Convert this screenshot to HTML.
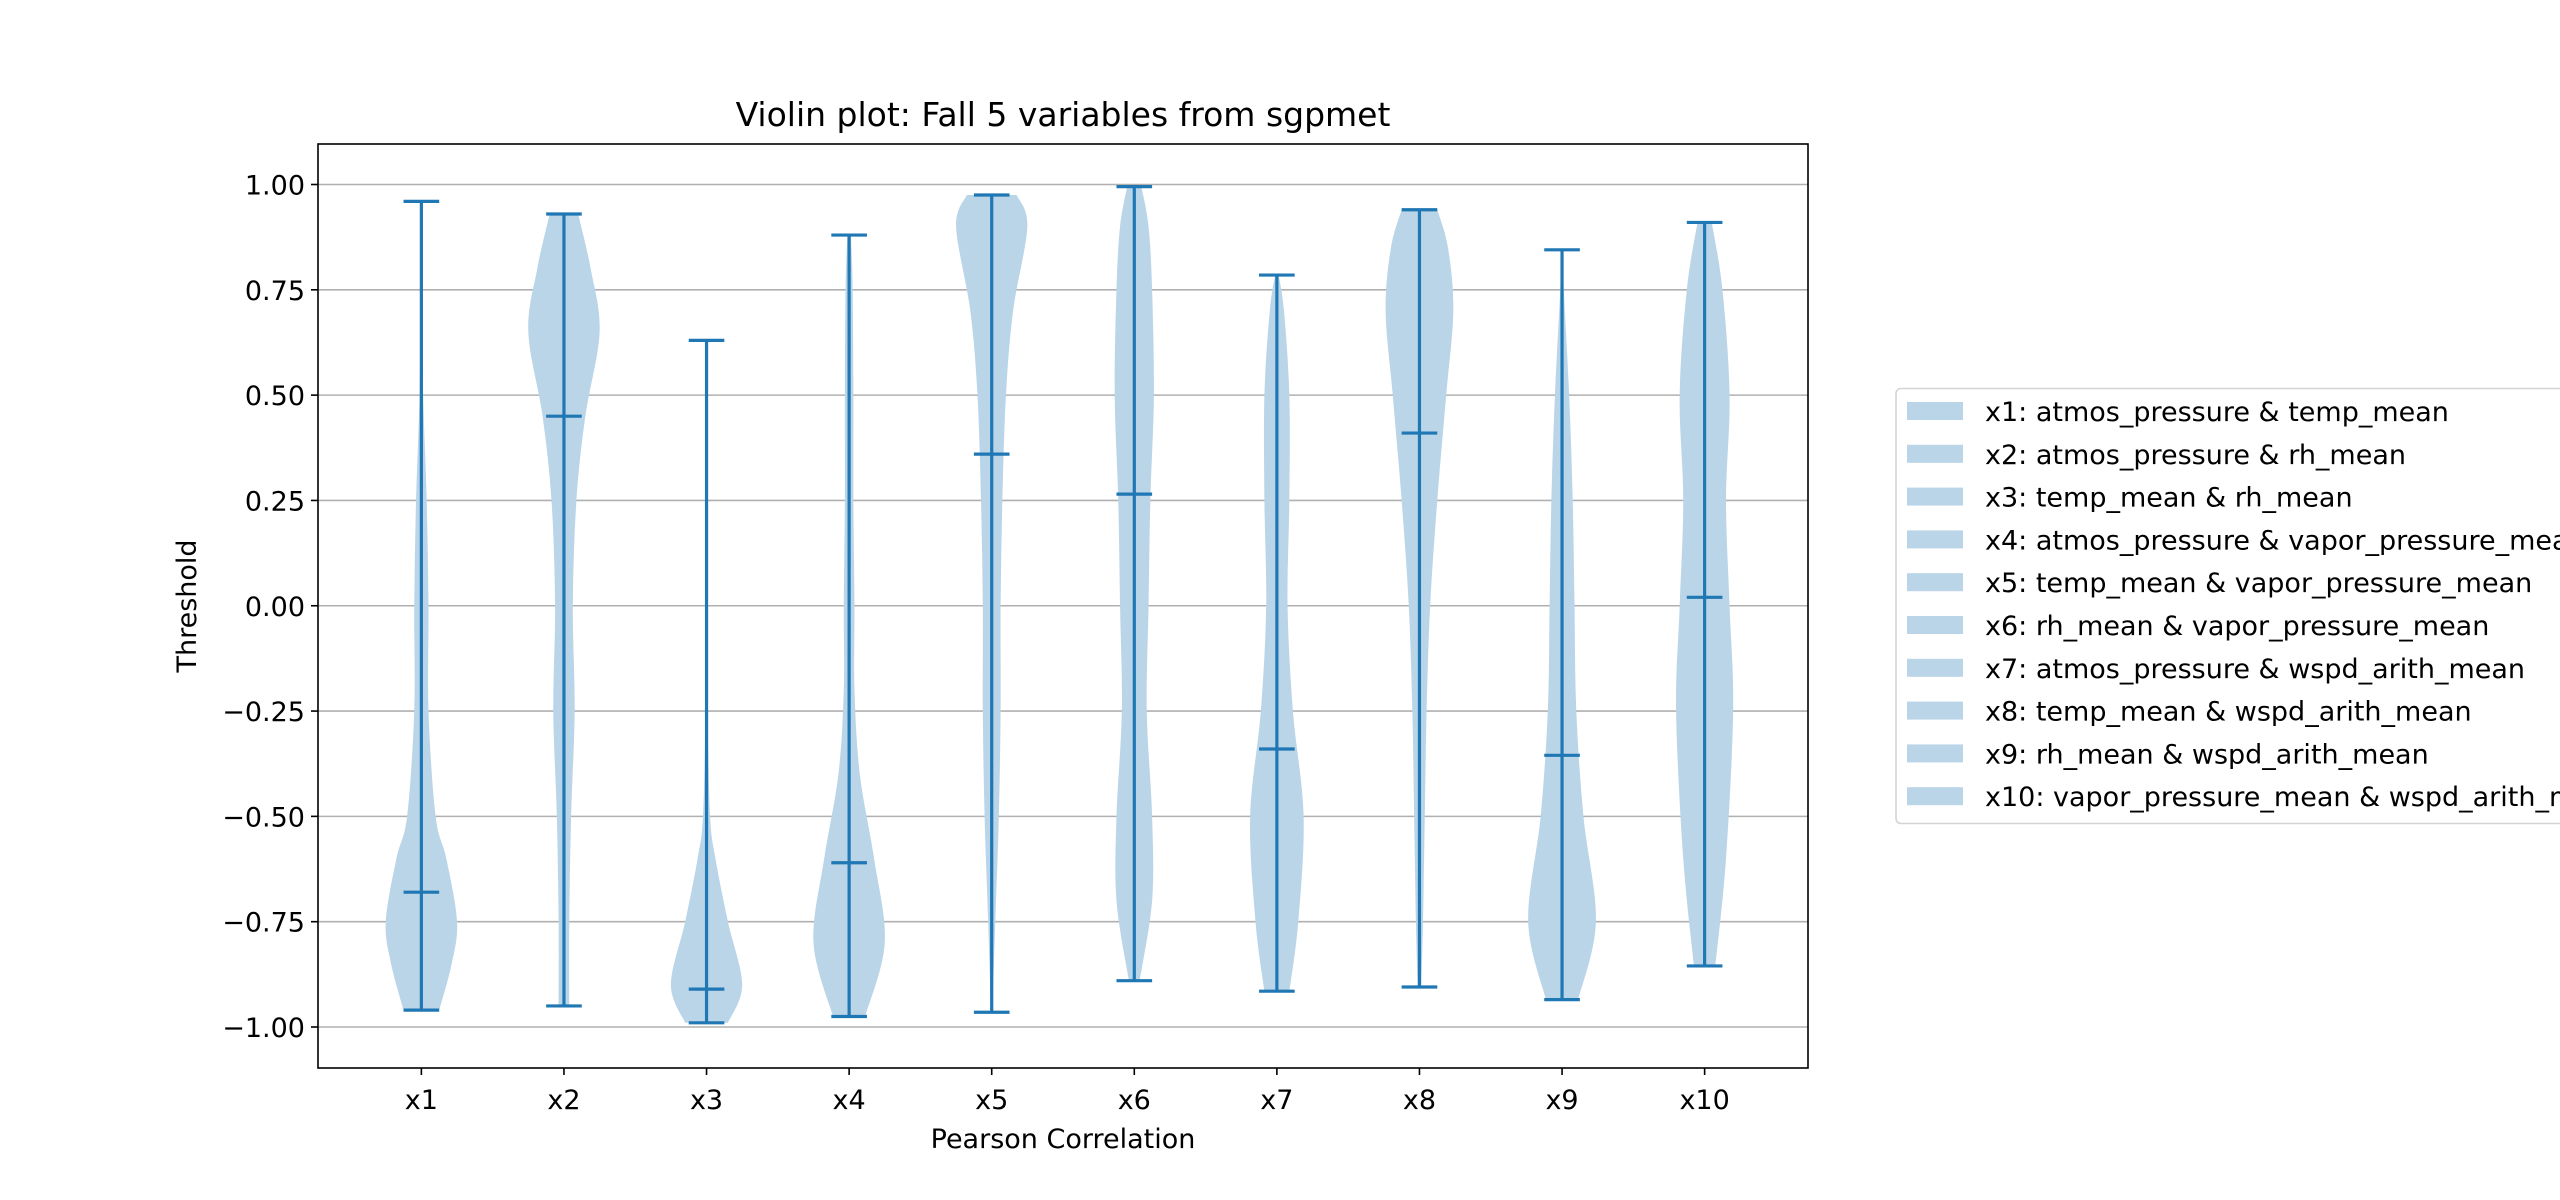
<!DOCTYPE html>
<html><head><meta charset="utf-8"><style>
html,body{margin:0;padding:0;background:#fff;}
svg{display:block;font-family:"DejaVu Sans","Liberation Sans",sans-serif;}
</style></head><body>
<svg id="chart" width="2560" height="1200" viewBox="0 0 2560 1200">
<text x="1063" y="126" font-size="33" text-anchor="middle">Violin plot: Fall 5 variables from sgpmet</text>
<g id="grid"></g>
<g id="violins"></g>
<rect x="318" y="144" width="1490" height="924" fill="none" stroke="#000" stroke-width="1.6"/>
<g id="yticks"></g>
<g id="xticks"></g>
<text transform="translate(196,606) rotate(-90)" font-size="27" text-anchor="middle">Threshold</text>
<text x="1063" y="1148" font-size="27" text-anchor="middle">Pearson Correlation</text>
<g id="legend"></g>
</svg>
<script>
const categories = ["x1","x2","x3","x4","x5","x6","x7","x8","x9","x10"];
const legendLabels = ["x1: atmos_pressure & temp_mean","x2: atmos_pressure & rh_mean","x3: temp_mean & rh_mean","x4: atmos_pressure & vapor_pressure_mean","x5: temp_mean & vapor_pressure_mean","x6: rh_mean & vapor_pressure_mean","x7: atmos_pressure & wspd_arith_mean","x8: temp_mean & wspd_arith_mean","x9: rh_mean & wspd_arith_mean","x10: vapor_pressure_mean & wspd_arith_mean"];
const maxVals = [0.96,0.93,0.63,0.88,0.975,0.995,0.785,0.94,0.845,0.91];
const minVals = [-0.96,-0.95,-0.99,-0.975,-0.965,-0.89,-0.915,-0.905,-0.935,-0.855];
const medianVals = [-0.68,0.45,-0.91,-0.61,0.36,0.265,-0.34,0.41,-0.355,0.02];
const densityY = [
 [-0.96,-0.85,-0.75,-0.6,-0.5,-0.25,0,0.25,0.5,0.75,0.96],
 [-0.95,-0.75,-0.5,-0.25,0,0.25,0.45,0.65,0.8,0.93],
 [-0.99,-0.9,-0.75,-0.6,-0.5,-0.25,0,0.63],
 [-0.975,-0.8,-0.6,-0.4,-0.2,0,0.25,0.5,0.75,0.88],
 [-0.965,-0.75,-0.5,-0.25,0,0.25,0.5,0.7,0.9,0.975],
 [-0.89,-0.7,-0.5,-0.25,0,0.25,0.5,0.75,0.9,0.995],
 [-0.915,-0.75,-0.5,-0.25,0,0.25,0.5,0.7,0.785],
 [-0.905,-0.75,-0.5,-0.25,0,0.25,0.5,0.7,0.85,0.94],
 [-0.935,-0.75,-0.5,-0.25,0,0.25,0.5,0.75,0.845],
 [-0.855,-0.6,-0.25,0,0.25,0.5,0.75,0.91]
];
const densityW = [
 [0.5,0.85,1.0,0.7,0.4,0.2,0.2,0.15,0.05,0.02,0.0],
 [0.15,0.15,0.2,0.3,0.25,0.35,0.6,1.0,0.75,0.4],
 [0.6,1.0,0.6,0.25,0.1,0.03,0.01,0.0],
 [0.45,1.0,0.7,0.3,0.15,0.15,0.12,0.12,0.1,0.05],
 [0.02,0.1,0.2,0.25,0.25,0.3,0.4,0.6,1.0,0.7],
 [0.15,0.5,0.5,0.35,0.4,0.45,0.55,0.5,0.4,0.2],
 [0.35,0.6,0.75,0.45,0.3,0.35,0.35,0.2,0.05],
 [0.05,0.1,0.15,0.2,0.3,0.5,0.75,0.95,0.8,0.5],
 [0.45,0.95,0.6,0.4,0.35,0.3,0.2,0.05,0.01],
 [0.3,0.6,0.8,0.7,0.6,0.7,0.5,0.2]
];
const yTicks = [-1.0,-0.75,-0.5,-0.25,0,0.25,0.5,0.75,1.0];
const yTickLabels = ["\u22121.00","\u22120.75","\u22120.50","\u22120.25","0.00","0.25","0.50","0.75","1.00"];

const NS="http://www.w3.org/2000/svg";
const X0=318,X1=1808,XMIN=0.275,XMAX=10.725;
const Y0=184.5,Y1=1027;
const xs=v=>X0+(v-XMIN)/(XMAX-XMIN)*(X1-X0);
const ys=v=>Y0+(1-v)/2*(Y1-Y0);
const blue="#1f77b4", fill="#bbd5e8";
function mk(tag,attrs,parent){const e=document.createElementNS(NS,tag);for(const k in attrs)e.setAttribute(k,attrs[k]);parent.appendChild(e);return e;}

const grid=document.getElementById('grid'), yt=document.getElementById('yticks'), xt=document.getElementById('xticks');
yTicks.forEach((t,i)=>{
  const l=mk('line',{x1:X0,x2:X1,y1:ys(t),y2:ys(t),stroke:'#b0b0b0','stroke-width':1.6},grid);
  
  
  const tk=mk('line',{x1:X0-7,x2:X0,y1:ys(t),y2:ys(t),stroke:'#000','stroke-width':1.6},yt);
  
  
  const tx=mk('text',{x:X0-13,y:ys(t)+10,'font-size':27,'text-anchor':'end'},yt);
  tx.textContent=yTickLabels[i];
  
  
});
categories.forEach((c,i)=>{
  const x=xs(i+1);
  const tk=mk('line',{x1:x,x2:x,y1:1068,y2:1075,stroke:'#000','stroke-width':1.6},xt);
  
  
  const tx=mk('text',{x:x,y:1109,'font-size':27,'text-anchor':'middle'},xt);
  tx.textContent=c;
  
  
});

function smoothPath(pts){
  let d='M'+pts[0][0]+','+pts[0][1];
  for(let i=0;i<pts.length-1;i++){
    const p0=pts[Math.max(0,i-1)],p1=pts[i],p2=pts[i+1],p3=pts[Math.min(pts.length-1,i+2)];
    const c1=[p1[0]+(p2[0]-p0[0])/6,p1[1]+(p2[1]-p0[1])/6];
    const c2=[p2[0]-(p3[0]-p1[0])/6,p2[1]-(p3[1]-p1[1])/6];
    d+=' C'+c1[0]+','+c1[1]+' '+c2[0]+','+c2[1]+' '+p2[0]+','+p2[1];
  }
  return d;
}
const vg=document.getElementById('violins');
categories.forEach((c,i)=>{
  const pos=i+1;
  const right=densityY[i].map((y,j)=>[xs(pos+densityW[i][j]*0.25),ys(y)]);
  const left=densityY[i].map((y,j)=>[xs(pos-densityW[i][j]*0.25),ys(y)]).reverse();
  const d=smoothPath(right)+' L'+left[0][0]+','+left[0][1]+smoothPath(left).replace(/^M[^ ]+/,'')+' Z';
  const p=mk('path',{d:d,fill:fill,stroke:'none'},vg);
  
  
  const x=xs(pos),hw=xs(pos+0.125)-x;
  const bar=mk('line',{x1:x,x2:x,y1:ys(maxVals[i]),y2:ys(minVals[i]),stroke:blue,'stroke-width':3.2},vg);
  
  
  [[maxVals[i],'max-cap-'],[minVals[i],'min-cap-'],[medianVals[i],'median-line-']].forEach(([v,n])=>{
    const l=mk('line',{x1:x-hw,x2:x+hw,y1:ys(v),y2:ys(v),stroke:blue,'stroke-width':3.2},vg);
    
    
  });
});

const lg=document.getElementById('legend');
const box=mk('rect',{x:1896,y:388.5,width:800,height:435,rx:5,fill:'#fff',stroke:'#d4d4d4','stroke-width':1.6},lg);


legendLabels.forEach((t,i)=>{
  const y=402+i*42.8;
  const r=mk('rect',{x:1907,y:y,width:56,height:18,fill:fill},lg);
  
  
  const tx=mk('text',{x:1985,y:y+19,'font-size':27},lg);
  tx.textContent=t;
  
  
});
</script>
</body></html>
